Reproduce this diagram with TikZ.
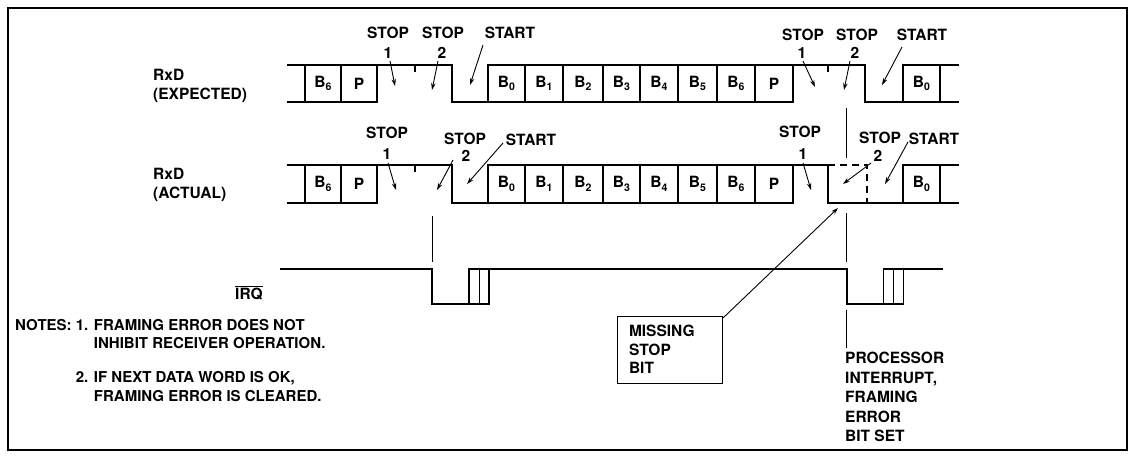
\documentclass[tikz,border=0pt]{standalone}
\usepackage{fontspec}
\setmainfont{TeX Gyre Heros}
\usetikzlibrary{arrows.meta}
\begin{document}
\begin{tikzpicture}[x=1pt,y=-1pt,
  font=\bfseries\fontsize{15.5}{18.5}\selectfont,
  wave/.style={line width=1.9pt, line join=miter},
  sig/.style={line width=1.6pt, line join=miter},
  thin/.style={line width=0.9pt},
  ptr/.style={line width=0.9pt, -{Stealth[length=7pt,width=4.5pt]}},
  lbl/.style={inner sep=0pt}]
\useasboundingbox (0,0) rectangle (1134,458);
\draw[line width=1.2pt] (8,8) rectangle (1127,450);
\newcommand{\bx}[1]{B\raisebox{-0.4ex}{\fontsize{10.5}{10.5}\selectfont #1}}
% ---------- expected row ----------
\def\ya{65}\def\yb{102}
\draw[wave] (286.7,\yb) -- (377,\yb) -- (377,\ya);
\draw[wave] (286.7,\ya) -- (452,\ya) -- (452,\yb) -- (793,\yb) -- (793,\ya);
\draw[wave] (488,\yb) -- (488,\ya) -- (865,\ya) -- (865,\yb) -- (959,\yb);
\draw[wave] (959,\ya) -- (903,\ya) -- (903,\yb);
\foreach \x in {305,341,525,563,603,640,678,717,755,940} \draw[wave] (\x,\ya) -- (\x,\yb);
\foreach \x in {415,828} \draw[wave] (\x,\ya) -- (\x,\ya+7);
\foreach \a/\b/\t [count=\i] in {305/341/\bx6,341/377/P,488/525/\bx0,525/563/\bx1,563/603/\bx2,603/640/\bx3,640/678/\bx4,678/717/\bx5,717/755/\bx6,755/793/P,903/940/\bx0}
  \node[lbl] (e\i) at ({(\a+\b)/2},{(\ya+\yb)/2}) {\t};
% ---------- actual row ----------
\def\yc{165}\def\yd{203}
\draw[wave] (286.7,\yd) -- (377,\yd) -- (377,\yc);
\draw[wave] (286.7,\yc) -- (452,\yc) -- (452,\yd) -- (793,\yd) -- (793,\yc);
\draw[wave] (488,\yd) -- (488,\yc) -- (828,\yc) -- (828,\yd) -- (959,\yd);
\draw[wave] (959,\yc) -- (903,\yc) -- (903,\yd);
\draw[wave,dash pattern=on 7pt off 5pt] (828,\yc) -- (867,\yc) -- (867,\yd);
\foreach \x in {305,341,525,563,603,640,678,717,755,940} \draw[wave] (\x,\yc) -- (\x,\yd);
\draw[wave] (415,\yc) -- (415,\yc+7);
\foreach \a/\b/\t [count=\i] in {305/341/\bx6,341/377/P,488/525/\bx0,525/563/\bx1,563/603/\bx2,603/640/\bx3,640/678/\bx4,678/717/\bx5,717/755/\bx6,755/793/P,903/940/\bx0}
  \node[lbl] (a\i) at ({(\a+\b)/2},{(\yc+\yd)/2}) {\t};
% ---------- IRQ ----------
\def\yh{269}\def\yl{304}
\draw[sig] (280,\yh) -- (432,\yh) -- (432,\yl) -- (489,\yl) -- (489,\yh);
\draw[sig] (469,\yl) -- (469,\yh) -- (846.7,\yh) -- (846.7,\yl) -- (903.3,\yl) -- (903.3,\yh);
\draw[sig] (883.3,\yl) -- (883.3,\yh) -- (943,\yh);
\draw[sig] (479.3,\yl) -- (479.3,\yh);
\draw[sig] (893.3,\yl) -- (893.3,\yh);
% marker lines
\coordinate (m1a) at (846.7,108); \coordinate (m1b) at (846.7,158);
\coordinate (m2a) at (432,216); \coordinate (m2b) at (432,262);
\coordinate (m3a) at (846.7,213); \coordinate (m3b) at (846.7,262);
\coordinate (m4a) at (846.7,310); \coordinate (m4b) at (846.7,348);
\draw[thin] (m1a) -- (m1b);
\draw[thin] (m2a) -- (m2b);
\draw[thin] (m3a) -- (m3b);
\draw[thin] (m4a) -- (m4b);
% ---------- labels ----------
\node[lbl,anchor=west,align=left] (rxe) at (153,86) {RxD\\(EXPECTED)};
\node[lbl,anchor=west,align=left] (rxa) at (153,185) {RxD\\(ACTUAL)};
\node[lbl] (irq) at (249,293) {$\overline{\hbox{IRQ}}$};
% top labels
\node[lbl] (ts1) at (388,33) {STOP};  \node[lbl] (tn1) at (388,53) {1};
\node[lbl] (ts2) at (443,33) {STOP};  \node[lbl] (tn2) at (442,53) {2};
\node[lbl] (tst) at (510,33) {START};
\node[lbl] (us1) at (803,35) {STOP};  \node[lbl] (un1) at (802,53) {1};
\node[lbl] (us2) at (857,35) {STOP};  \node[lbl] (un2) at (855,53) {2};
\node[lbl] (ust) at (922,35) {START};
\coordinate (tp1) at (395,86); \coordinate (tp2) at (432,90); \coordinate (tp3) at (470,85);
\coordinate (up1) at (815,87); \coordinate (up2) at (844,90); \coordinate (up3) at (882,85);
\draw[ptr] (390,61) -- (tp1);
\draw[ptr] (438,61) -- (tp2);
\draw[ptr] (483,45) -- (tp3);
\draw[ptr] (803,61) -- (up1);
\draw[ptr] (850,61) -- (up2);
\draw[ptr] (902,47) -- (up3);
% middle labels
\node[lbl] (ms1) at (387,133) {STOP}; \node[lbl] (mn1) at (387,154) {1};
\node[lbl] (ms2) at (465,139) {STOP}; \node[lbl] (mn2) at (466,156) {2};
\node[lbl] (mst) at (531,140) {START};
\node[lbl] (vs1) at (800,132) {STOP}; \node[lbl] (vn1) at (803,154) {1};
\node[lbl] (vs2) at (880,138) {STOP}; \node[lbl] (vn2) at (878,156) {2};
\node[lbl] (vst) at (934,139) {START};
\coordinate (mp1) at (396,190); \coordinate (mp2) at (437,190); \coordinate (mp3) at (467,184);
\coordinate (vp1) at (811,190); \coordinate (vp2) at (843,184); \coordinate (vp3) at (885,184);
\draw[ptr] (388,163) -- (mp1);
\draw[ptr] (453,160) -- (mp2);
\draw[ptr] (503,143) -- (mp3);
\draw[ptr] (803,163) -- (vp1);
\draw[ptr] (871,163) -- (vp2);
\draw[ptr] (908,142) -- (vp3);
% missing stop bit box
\node[draw,line width=1.2pt,minimum width=105pt,minimum height=67pt,anchor=north east,inner sep=0pt] (miss) at (723,316) {};
\node[lbl,anchor=north west,align=left] (misst) at ([xshift=12pt,yshift=-9pt]miss.north west) {MISSING\\STOP\\BIT};
\coordinate (mtip) at (838,208);
\draw[ptr] ([yshift=-2pt]miss.north east) -- (mtip);
% processor text
\node[lbl,anchor=north west,align=left,font=\bfseries\fontsize{15.5}{19.5}\selectfont] (proc) at (845,352) {PROCESSOR\\INTERRUPT,\\FRAMING\\ERROR\\BIT SET};
% notes
\begin{scope}[font=\bfseries\fontsize{15}{18}\selectfont]
\node[lbl,anchor=west] (n1) at (15,325) {NOTES: 1. FRAMING ERROR DOES NOT};
\node[lbl,anchor=west] (n1b) at (15,343) {\phantom{NOTES: 1. }INHIBIT RECEIVER OPERATION.};
\node[lbl,anchor=west] (n2) at (15,378) {\phantom{NOTES: }2. IF NEXT DATA WORD IS OK,};
\node[lbl,anchor=west] (n2b) at (15,396) {\phantom{NOTES: 1. }FRAMING ERROR IS CLEARED.};
\end{scope}
\end{tikzpicture}
\end{document}
